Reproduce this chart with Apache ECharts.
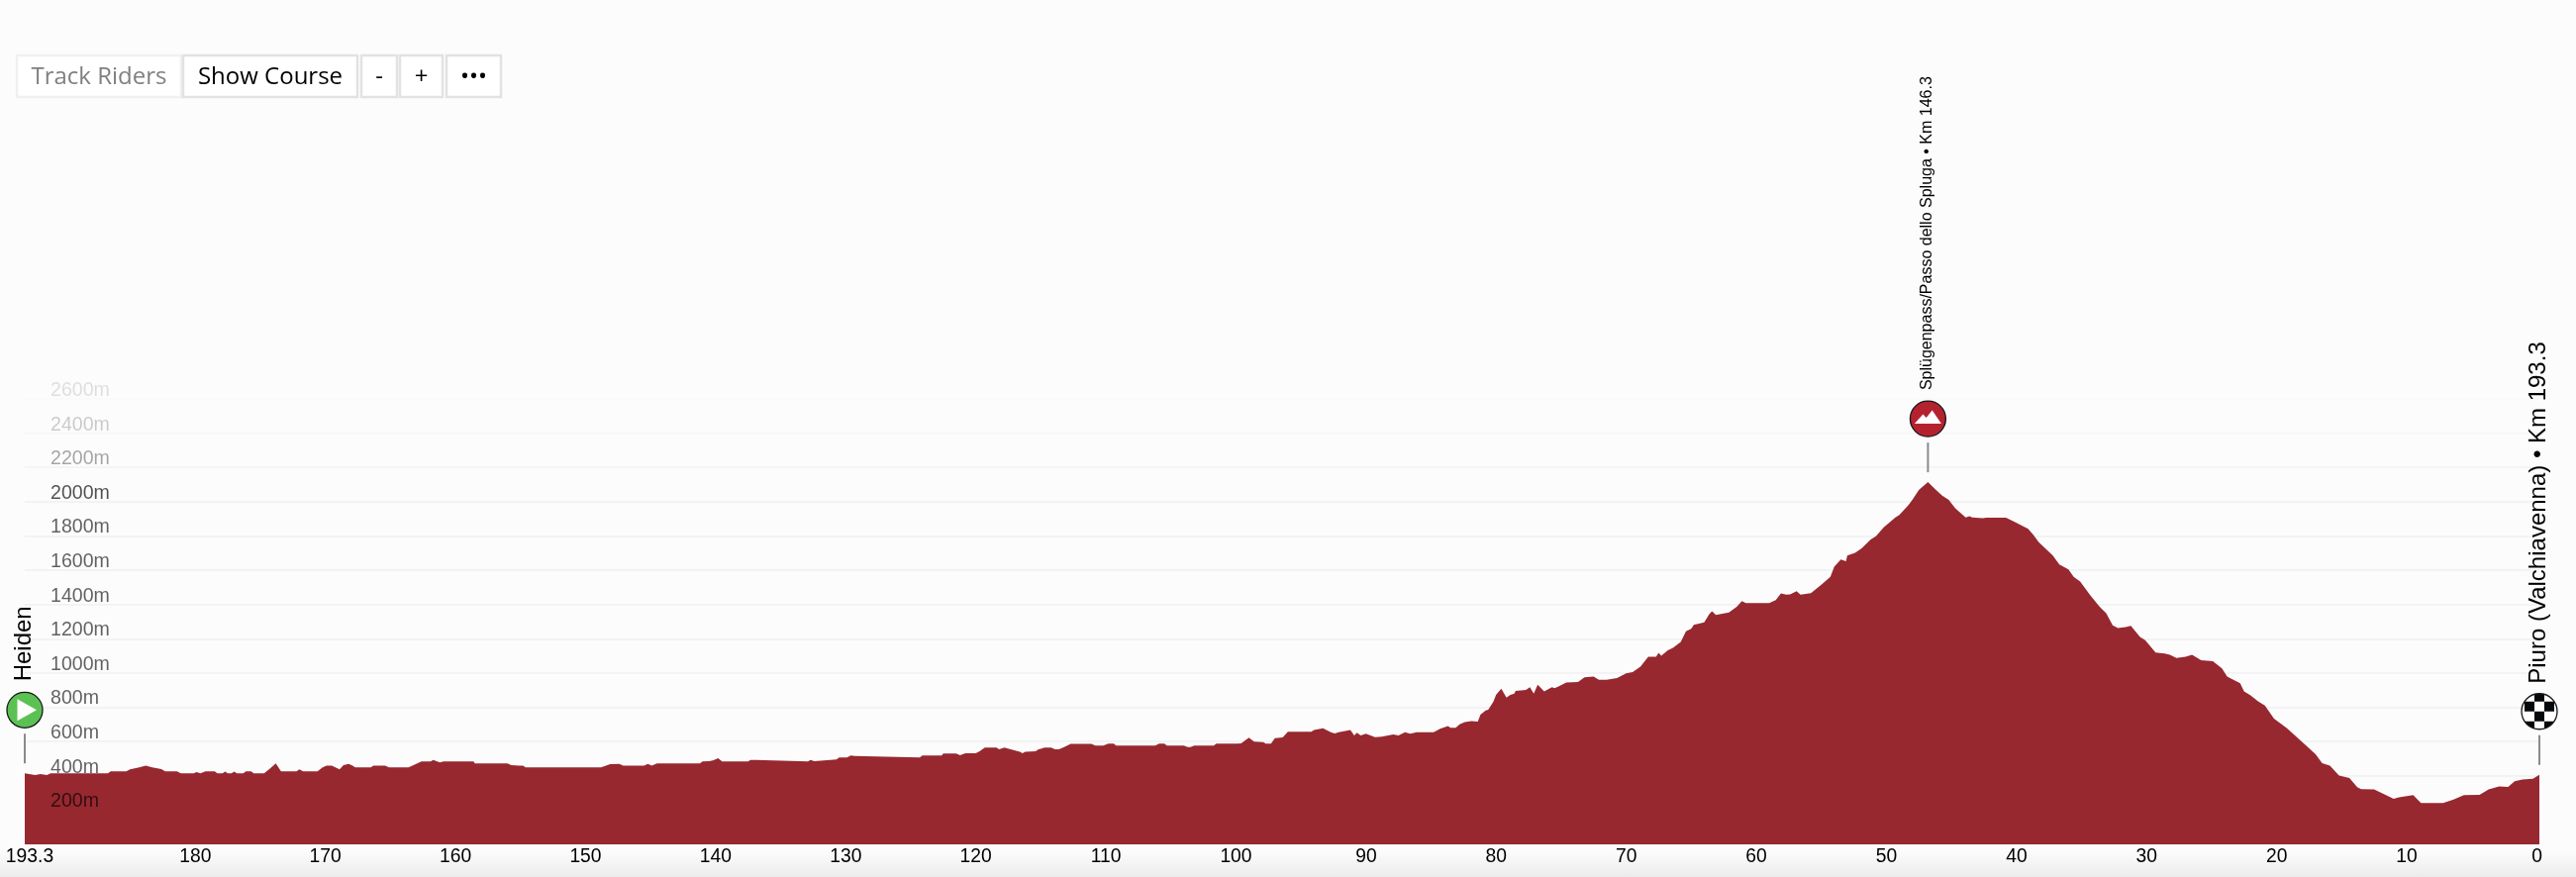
<!DOCTYPE html>
<html>
<head>
<meta charset="utf-8">
<style>html,body{margin:0;padding:0;background:#fcfcfc}#c{width:2602px;height:886px}</style>
<script src="https://cdn.jsdelivr.net/npm/echarts@6/dist/echarts.min.js"></script>
</head>
<body>
<div id="c"></div>
<script>
const kmToGo = [193.3,192.5,192.1,191.6,191.3,186.9,186.7,185.5,185.2,184.5,184.0,183.5,182.8,182.5,181.6,181.3,180.3,180.1,179.8,179.4,178.7,178.5,178.1,177.9,177.7,177.4,177.2,177.0,176.5,176.3,175.9,175.7,174.9,174.5,174.0,173.6,172.4,172.2,171.9,170.8,170.4,170.1,169.7,169.1,168.8,168.4,168.1,167.9,166.7,166.5,165.6,165.3,163.8,163.5,162.8,162.1,161.9,161.4,161.1,158.8,158.7,156.2,155.9,155.3,155.0,154.8,149.0,148.3,147.6,147.3,145.7,145.4,145.1,144.7,142.8,142.7,142.4,141.4,141.2,140.7,140.4,140.0,139.7,137.7,137.5,137.1,137.0,133.1,132.9,132.6,132.5,130.9,130.7,130.1,129.8,129.5,129.4,124.5,124.3,122.8,122.7,121.7,121.4,121.0,120.2,119.9,119.5,118.6,118.4,118.0,117.3,116.8,116.6,116.4,115.6,115.4,114.9,114.4,114.1,113.8,113.4,112.9,111.3,111.0,110.4,110.0,109.6,109.4,106.4,106.1,105.7,105.5,104.2,103.9,103.7,103.4,101.9,101.7,100.1,100.0,99.8,99.2,98.8,98.1,97.9,97.5,97.2,96.6,96.2,94.4,94.2,93.5,92.9,92.6,92.3,91.4,91.1,90.9,90.6,90.2,89.5,89.0,88.1,87.7,87.2,86.8,86.3,85.0,84.5,83.9,83.7,83.3,83.0,82.6,82.1,81.6,81.4,81.0,80.8,80.4,80.2,79.8,79.4,79.1,78.8,78.7,78.3,77.9,77.6,77.3,77.0,76.5,75.9,75.7,75.4,74.8,73.9,73.4,72.7,72.3,71.7,70.9,70.2,69.7,69.1,68.5,67.9,67.7,67.5,67.0,66.6,66.0,65.6,65.2,65.0,64.2,63.8,63.6,63.3,62.3,61.7,61.3,61.0,59.2,58.7,58.3,57.9,57.6,57.1,56.8,56.0,55.2,54.5,54.2,53.7,53.3,53.2,52.6,52.1,51.4,51.0,50.4,49.5,49.2,48.5,48.2,47.7,47.0,46.5,45.9,45.4,44.9,44.1,43.8,43.6,42.8,42.5,41.0,40.3,39.3,38.9,38.5,37.4,36.9,36.2,35.8,35.3,34.5,33.8,33.3,32.8,32.4,31.8,31.4,30.7,30.3,29.5,28.8,28.4,27.9,27.2,26.7,26.0,25.1,24.4,24.0,23.0,22.7,22.2,21.6,21.1,20.4,19.4,17.8,17.2,16.7,16.1,15.4,14.6,14.0,13.7,12.7,11.2,10.8,9.7,9.1,7.4,6.6,5.8,4.6,3.9,3.1,2.4,1.9,1.3,0.5,0];
const elevation = [414,405,410,405,414,414,426,426,437,449,459,449,439,426,426,414,414,422,414,426,426,414,414,424,414,414,424,414,414,426,426,414,414,439,472,426,426,437,426,426,449,460,459,437,462,470,459,449,449,460,460,449,449,460,484,484,493,478,484,484,472,472,462,460,459,449,449,468,470,460,460,470,460,472,472,480,472,472,484,486,489,503,484,484,493,493,484,484,493,486,495,495,507,507,518,516,507,507,518,518,530,530,520,532,532,543,565,565,555,565,551,540,532,540,543,553,565,565,555,555,568,586,586,576,576,588,588,576,576,588,588,576,576,567,567,576,576,588,588,597,590,622,599,597,588,588,620,624,657,657,667,678,655,647,655,667,636,651,636,646,626,628,642,636,655,646,655,655,674,690,680,680,700,713,719,717,757,782,786,834,873,908,857,873,879,896,898,902,917,879,931,892,917,911,921,944,948,975,979,960,960,971,998,1006,1037,1095,1095,1118,1100,1133,1147,1181,1243,1258,1281,1295,1345,1360,1339,1353,1387,1420,1409,1409,1426,1465,1457,1459,1478,1457,1466,1515,1561,1621,1663,1653,1686,1702,1727,1779,1798,1850,1908,1923,1981,2010,2068,2114,2077,2035,2010,1962,1908,1915,1908,1904,1906,1906,1881,1842,1807,1765,1686,1634,1605,1561,1534,1451,1387,1349,1278,1262,1268,1276,1210,1191,1120,1114,1106,1087,1095,1106,1075,1069,1027,979,940,892,869,834,811,734,678,568,526,474,459,401,387,333,322,320,266,274,287,241,241,262,287,289,320,338,335,369,379,383,406];
const kmTicks = [193.3,180,170,160,150,140,130,120,110,100,90,80,70,60,50,40,30,20,10,0];
const elevationTicks = [0,200,400,600,800,1000,1200,1400,1600,1800,2000,2200,2400,2600];
const elevationLabelColors = ['rgba(0,0,0,0)','rgba(0,0,0,.66)','rgba(0,0,0,.62)','rgba(0,0,0,.62)','rgba(0,0,0,.62)','rgba(0,0,0,.62)','rgba(0,0,0,.62)','rgba(0,0,0,.62)','rgba(0,0,0,.62)','rgba(0,0,0,.62)','rgba(0,0,0,.68)','rgba(0,0,0,.35)','rgba(0,0,0,.2)','rgba(0,0,0,.12)'];
const gridColors = ['#f1f1f1','#f1f1f1','#f1f1f1','#f1f1f1','#f1f1f1','#f1f1f1','#f1f1f1','#f1f1f1','#f1f1f1','#f1f1f1','#f1f1f1','#f3f3f3','#f7f7f7','#fafafa'];
const markerKm = [193.3,47.0,0];
const markerElevation = [414,2114,406];
const markerKinds = ['start','climb','finish'];
const markerLabels = ['Heiden','Splügenpass/Passo dello Spluga • Km 146.3','Piuro (Valchiavenna) • Km 193.3'];
const buttonLabels = ['Track Riders','Show Course','-','+','•••'];

const FONT = '"Liberation Sans", Arial, Helvetica, sans-serif';
const profile = kmToGo.map((k,i)=>[k,elevation[i]]);
const markers = markerKm.map((k,i)=>[k,markerElevation[i],i]);

function icon(kind,cx,cy){
  const R=18, els=[];
  const fill={start:'#5cc153',climb:'#b5222f',finish:'#ffffff'}[kind];
  els.push({type:'circle',shape:{cx,cy,r:R},style:{fill}});
  if(kind==='start'){
    els.push({type:'polygon',shape:{points:[[cx-7.5,cy-11],[cx-7.5,cy+11],[cx+12,cy]]},style:{fill:'#fff'}});
  } else if(kind==='climb'){
    els.push({type:'polygon',shape:{points:[[cx-13.5,cy+5],[cx-5,cy-4.5],[cx-1.7,cy-1],[cx+4.3,cy-8.5],[cx+13.5,cy+5]]},style:{fill:'#fff'}});
  } else {
    [[-5,-20],[-15,-10],[5,-10],[-5,0],[-15,10],[5,10]].forEach(c=>
      els.push({type:'rect',shape:{x:cx+c[0],y:cy+c[1],width:10,height:10},style:{fill:'#05090c'}}));
  }
  const group={type:'group',children:els};
  if(kind==='finish') group.clipPath={type:'circle',shape:{cx,cy,r:R}};
  return [group,{type:'circle',shape:{cx,cy,r:R},style:{fill:'none',stroke:'#15181a',lineWidth:1.3}}];
}

function renderMarker(params,api){
  const p=api.coord([api.value(0),api.value(1)]);
  const i=api.value(2);
  const kind=markerKinds[i];
  const x=p[0], top=p[1];
  const size=kind==='climb'?16:24;
  const shift=kind==='climb'?-0.5:(kind==='start'?-1:-0.5);
  return {type:'group',children:[
    {type:'line',shape:{x1:x,y1:top-40,x2:x,y2:top-10},style:{stroke:'#8a8a8a',lineWidth:2}},
    ...icon(kind,x,top-64),
    {type:'text',x:x+shift,y:top-(kind==='finish'?92:93),rotation:Math.PI/2,style:{text:markerLabels[i],fontFamily:FONT,fontSize:size,fill:'#000',align:'left',verticalAlign:'middle'}}
  ]};
}

const W=[168,178,38,45,57], X=[16,184,364,403,450];
const buttons=[];
buttonLabels.forEach((t,i)=>{
  buttons.push({type:'rect',shape:{x:X[i]+1,y:56,width:W[i]-2,height:42},style:{fill:'#fff',stroke:i===0?'#f0f0f0':'#e2e2e2',lineWidth:2.5},z:10});
  buttons.push({type:'text',x:X[i]+W[i]/2,y:78.5,style:{text:t,fontFamily:'"Open Sans"',fontSize:24,fill:i===0?'#808080':'#000',align:'center',verticalAlign:'middle'},z:11});
});

const chart=echarts.init(document.getElementById('c'),null,{renderer:'canvas'});
chart.setOption({
  animation:false,
  backgroundColor:'#fcfcfc',
  grid:{left:25,right:37,top:403,bottom:33,containLabel:false},
  graphic:[{type:'rect',shape:{x:0,y:860,width:2602,height:26},silent:true,z:-1,
    style:{fill:new echarts.graphic.LinearGradient(0,0,0,1,[{offset:0,color:'#fcfcfc'},{offset:1,color:'#ececec'}])}},...buttons],
  xAxis:{type:'value',inverse:true,min:0,max:193.3,
    axisLine:{show:false},axisTick:{show:false},splitLine:{show:false},
    axisLabel:{customValues:kmTicks,margin:3,hideOverlap:false,showMinLabel:true,showMaxLabel:true,
      formatter:v=>v===193.3?'{a|193.3}':'{b|'+v+'}',
      rich:{a:{fontFamily:FONT,fontSize:19.3,color:'#000',padding:[0,0,0,10]},
            b:{fontFamily:FONT,fontSize:19.3,color:'#000',padding:[0,5,0,0]}}}},
  yAxis:[
    {type:'value',min:0,max:2600,interval:200,position:'left',z:0,
     axisLine:{show:false,onZero:false},axisTick:{show:false},axisLabel:{show:false},
     splitLine:{show:true,lineStyle:{color:gridColors,width:1.6}}},
    {type:'value',min:0,max:2600,interval:200,position:'left',z:5,
     axisLine:{show:false,onZero:false},axisTick:{show:false},splitLine:{show:false},
     axisLabel:{inside:true,margin:26,verticalAlign:'bottom',lineHeight:17,fontFamily:FONT,fontSize:19.6,
       customValues:elevationTicks,showMinLabel:true,showMaxLabel:true,
       color:(v)=>elevationLabelColors[elevationTicks.indexOf(Number(v))],
       formatter:v=>v===0?'':v+'m'}}
  ],
  series:[
    {type:'line',data:profile,symbol:'none',smooth:false,z:2,silent:true,yAxisIndex:0,
     lineStyle:{width:0},areaStyle:{color:'#972830',opacity:1}},
    {type:'custom',data:markers,renderItem:renderMarker,clip:false,z:6,silent:true,yAxisIndex:0,
     encode:{x:0,y:1}}
  ]
});
</script>
</body>
</html>
